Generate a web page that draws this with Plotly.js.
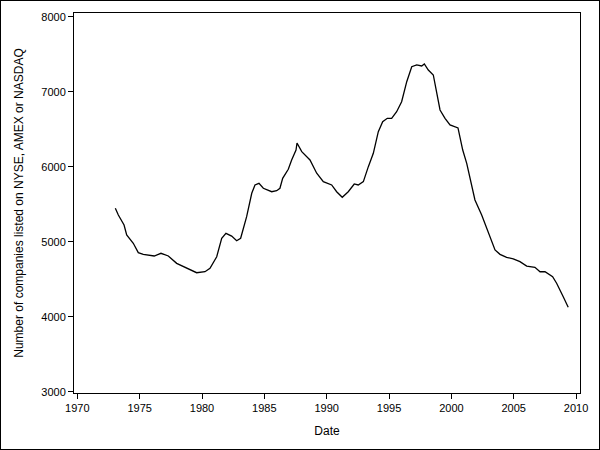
<!DOCTYPE html>
<html>
<head>
<meta charset="utf-8">
<script src="https://cdn.plot.ly/plotly-3.0.1.min.js"></script>
<style>
  html, body { margin: 0; padding: 0; background: #fff; }
  #wrap { position: relative; width: 600px; height: 450px; }
  #chart { position: absolute; left: 0; top: 0; width: 600px; height: 450px; }
  #border { position: absolute; left: 0; top: 0; width: 600px; height: 450px;
            box-sizing: border-box; border: 1px solid #000; pointer-events: none; }
</style>
</head>
<body>
<div id="wrap">
  <div id="chart"></div>
  <div id="border"></div>
</div>
<script>
// listed companies (decimal years)
const dates = [
  1973.05, 1973.29, 1973.75, 1973.96, 1974.49, 1974.89, 1975.29, 1976.17, 1976.71, 1977.30,
  1977.97, 1978.77, 1979.57, 1980.24, 1980.64, 1981.18, 1981.58, 1981.92, 1982.38, 1982.78,
  1983.10, 1983.58, 1983.99, 1984.25, 1984.57, 1984.92, 1985.59, 1985.99, 1986.25, 1986.47,
  1986.92, 1987.19, 1987.54, 1987.62, 1988.00, 1988.66, 1989.20, 1989.73, 1990.40, 1990.80,
  1991.25, 1991.73, 1992.21, 1992.53, 1992.94, 1993.34, 1993.74, 1994.14, 1994.49, 1994.86,
  1995.21, 1995.61, 1996.01, 1996.42, 1996.82, 1997.22, 1997.62, 1997.83, 1998.15, 1998.55,
  1998.82, 1999.09, 1999.49, 1999.89, 2000.53, 2000.91, 2001.23, 2001.63, 2001.89, 2002.43,
  2002.83, 2003.15, 2003.50, 2003.90, 2004.43, 2004.96, 2005.50, 2006.04, 2006.70, 2007.11,
  2007.51, 2008.12, 2008.44, 2008.97, 2009.37,
];
const companies = [
  5445, 5356, 5222, 5089, 4978, 4853, 4831, 4809, 4845, 4809,
  4711, 4653, 4586, 4599, 4645, 4799, 5045, 5111, 5075, 5013,
  5045, 5333, 5645, 5756, 5778, 5712, 5666, 5680, 5712, 5845,
  5965, 6089, 6222, 6316, 6200, 6089, 5912, 5800, 5756, 5666,
  5592, 5666, 5769, 5756, 5800, 6000, 6178, 6466, 6600, 6645,
  6645, 6733, 6866, 7133, 7333, 7356, 7343, 7369, 7289, 7223,
  6978, 6756, 6645, 6556, 6516, 6222, 6045, 5733, 5556, 5356,
  5178, 5022, 4889, 4831, 4791, 4769, 4733, 4675, 4658, 4599,
  4599, 4533, 4445, 4266, 4125,
];

const FONT = "\"Liberation Sans\", Arial, sans-serif";

const axisBase = {
  showline: true,
  linecolor: "#000",
  linewidth: 1,
  mirror: true,
  showgrid: false,
  zeroline: false,
  ticks: "outside",
  ticklen: 5,
  tickwidth: 1,
  tickcolor: "#000",
  tickfont: { family: FONT, size: 11, color: "#000" },
  fixedrange: true,
};

const trace = {
  type: "scatter",
  mode: "lines",
  x: dates,
  y: companies,
  line: { color: "#000", width: 1.3 },
  hoverinfo: "skip",
};

const layout = {
  width: 600,
  height: 450,
  paper_bgcolor: "#fff",
  plot_bgcolor: "#fff",
  showlegend: false,
  font: { family: FONT, size: 12, color: "#000" },
  margin: { l: 74, r: 20, t: 13, b: 57 },
  xaxis: {
    ...axisBase,
    range: [1969.735, 2010.315],
    tick0: 1970,
    dtick: 5,
    title: { text: "Date", font: { family: FONT, size: 12, color: "#000" }, standoff: 13 },
  },
  yaxis: {
    ...axisBase,
    range: [2982, 8049],
    tick0: 3000,
    dtick: 1000,
    title: {
      text: "Number of companies listed on NYSE, AMEX or NASDAQ",
      font: { family: FONT, size: 12, color: "#000" },
      standoff: 15,
    },
  },
};

Plotly.newPlot("chart", [trace], layout, { displayModeBar: false, staticPlot: true });
</script>
</body>
</html>
